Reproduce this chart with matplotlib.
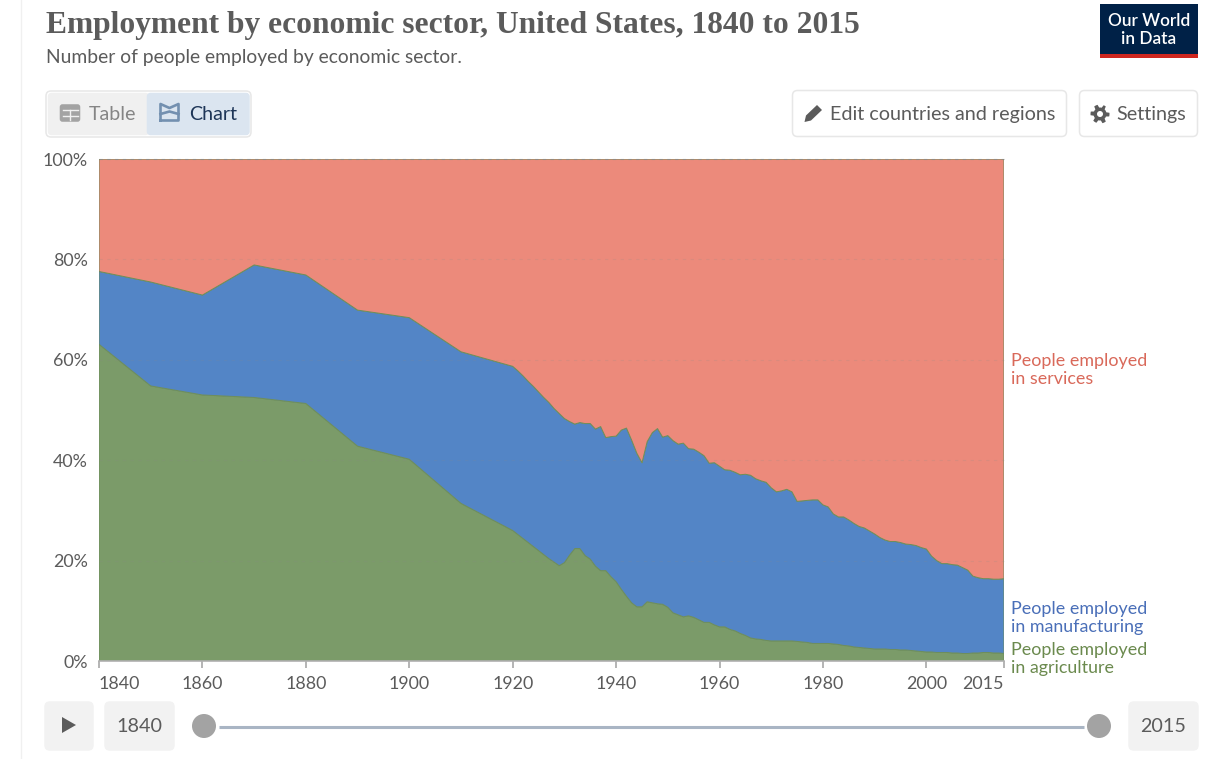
import matplotlib
matplotlib.use("Agg")
import matplotlib.pyplot as plt
import numpy as np
from matplotlib.patches import Circle, FancyBboxPatch, Polygon, Rectangle

plt.rcParams["font.family"] = ["Lato", "DejaVu Sans"]

# Data (shares of employment, in %)
years = [1840, 1850, 1860, 1870, 1880, 1890, 1900, 1910] + list(range(1920, 2016))

agriculture = [
    63.1, 54.8, 53.0, 52.5, 51.3, 42.8, 40.2, 31.4,
    # 1920s
    26.0, 25.2, 24.4, 23.6, 22.8, 22.0, 21.2, 20.4, 19.7, 19.0,
    # 1930s
    19.6, 21.1, 22.4, 22.4, 21.0, 20.3, 18.9, 18.0, 18.0, 16.8,
    # 1940s
    15.8, 14.3, 12.9, 11.6, 10.8, 10.8, 11.8, 11.6, 11.4, 11.3,
    # 1950s
    10.7, 9.6, 9.2, 8.8, 9.0, 8.7, 8.2, 7.7, 7.7, 7.2,
    # 1960s
    6.8, 6.8, 6.3, 6.0, 5.5, 5.1, 4.6, 4.4, 4.3, 4.1,
    # 1970s
    4.0, 4.0, 4.0, 4.0, 4.0, 3.9, 3.8, 3.7, 3.5, 3.5,
    # 1980s
    3.5, 3.5, 3.4, 3.3, 3.1, 3.0, 2.8, 2.7, 2.6, 2.5,
    # 1990s
    2.4, 2.4, 2.4, 2.3, 2.3, 2.2, 2.2, 2.1, 2.0, 1.9,
    # 2000s
    1.8, 1.8, 1.7, 1.7, 1.7, 1.6, 1.6, 1.5, 1.5, 1.6,
    # 2010s
    1.6, 1.7, 1.7, 1.6, 1.6, 1.5,
]

agri_plus_manufacturing = [
    77.6, 75.5, 72.9, 78.9, 76.9, 69.9, 68.4, 61.6,
    # 1920s
    58.7, 57.8, 56.8, 55.7, 54.7, 53.6, 52.5, 51.5, 50.3, 49.3,
    # 1930s
    48.3, 47.7, 47.2, 47.5, 47.3, 47.3, 46.2, 46.7, 44.5, 44.7,
    # 1940s
    44.8, 46.0, 46.4, 44.0, 41.4, 39.5, 43.7, 45.5, 46.3, 44.6,
    # 1950s
    44.9, 43.9, 43.2, 43.4, 42.3, 42.2, 41.6, 40.9, 39.4, 39.5,
    # 1960s
    38.8, 38.1, 38.0, 37.6, 37.1, 37.2, 37.0, 36.3, 35.9, 35.6,
    # 1970s
    34.5, 33.7, 33.9, 34.2, 33.7, 31.8, 31.9, 32.0, 32.1, 32.1,
    # 1980s
    31.1, 30.7, 29.3, 28.7, 28.7, 28.1, 27.4, 26.8, 26.5, 25.9,
    # 1990s
    25.3, 24.6, 24.1, 23.8, 23.8, 23.6, 23.3, 23.2, 23.0, 22.6,
    # 2000s
    22.3, 20.9, 20.0, 19.4, 19.4, 19.2, 19.1, 18.6, 18.1, 16.9,
    # 2010s
    16.6, 16.4, 16.4, 16.3, 16.3, 16.4,
]

x_ticks = [1840, 1860, 1880, 1900, 1920, 1940, 1960, 1980, 2000, 2015]
y_ticks = [0, 20, 40, 60, 80, 100]

AGRI_COLOR = "#7b9b69"
MANU_COLOR = "#5385c6"
SERV_COLOR = "#ec8a7b"
TEXT_GREY = "#5b5b5b"
W, H = 1207, 759

agriculture = np.array(agriculture)
manufacturing = np.array(agri_plus_manufacturing) - agriculture
services = 100 - np.array(agri_plus_manufacturing)

fig = plt.figure(figsize=(W / 100, H / 100), dpi=100, facecolor="white")

# page furniture is placed in pixel coordinates on a full-figure axes
ui = fig.add_axes([0, 0, 1, 1], zorder=0)
ui.set_xlim(0, W)
ui.set_ylim(H, 0)
ui.axis("off")


def button(x, y, w, h, face="white", edge="#e7e7e7", r=5):
    ui.add_patch(FancyBboxPatch((x + r, y + r), w - 2 * r, h - 2 * r,
                                boxstyle=f"round,pad={r},rounding_size={r}",
                                fc=face, ec=edge, lw=1.1))


ui.plot([20.5, 20.5], [0, H], color="#f0f0f0", lw=1)

ui.text(46, 25, "Employment by economic sector, United States, 1840 to 2015",
        family=["Liberation Serif", "DejaVu Serif"], fontsize=22.7, fontweight="bold",
        color=TEXT_GREY, va="center", ha="left")
ui.text(46, 57.5, "Number of people employed by economic sector.",
        fontsize=13.9, color=TEXT_GREY, va="center", ha="left")

# logo
ui.add_patch(Rectangle((1100, 4), 97.5, 50, fc="#002147", ec="none"))
ui.add_patch(Rectangle((1100, 54), 97.5, 4, fc="#ce261e", ec="none"))
ui.text(1149, 21, "Our World", color="white", fontsize=12.4, fontweight="semibold", ha="center", va="center")
ui.text(1149, 39, "in Data", color="white", fontsize=12.4, fontweight="semibold", ha="center", va="center")

# Table / Chart toggle
button(46, 91, 205, 46, edge="#e7e7e7")
button(48.5, 93.5, 100, 41, face="#f0f0f0", edge="#f0f0f0", r=3)
button(147.5, 93.5, 101.5, 41, face="#dbe5f0", edge="#dbe5f0", r=3)
button(60.5, 105, 19, 16, face="#a3a3a3", edge="#a3a3a3", r=2)
ui.plot([62.5, 77.5], [110, 110], color="#f0f0f0", lw=1)
ui.plot([62.5, 77.5], [115.5, 115.5], color="#f0f0f0", lw=1)
ui.plot([70, 70], [110, 120], color="#f0f0f0", lw=1)
ui.plot([160.5, 160.5, 169.5, 178.5, 178.5, 160.5, 160.5], [120.5, 104, 108, 104, 120.5, 120.5, 120.5],
        color="#7390b0", lw=1.9)
ui.plot([160.5, 169.5, 178.5], [114, 111.5, 114], color="#7390b0", lw=1.9)
ui.text(88.5, 114.5, "Table", fontsize=14.1, color="#858585", va="center", ha="left")
ui.text(189, 114.5, "Chart", fontsize=14.1, color="#1d3557", va="center", ha="left")

# Edit / Settings buttons
button(792.5, 90.5, 274, 46)
button(1079.5, 90.5, 118, 46)
ui.add_patch(Polygon([(804.5, 122), (806, 115.5), (817, 105), (822, 110), (811, 120.5)], closed=True,
                     fc=TEXT_GREY, ec="none"))
ui.text(829.5, 114.5, "Edit countries and regions", fontsize=14.25, color=TEXT_GREY, va="center", ha="left")
theta = np.linspace(0, 2 * np.pi, 49)
gear_r = 8 + 1.5 * np.sign(np.cos(6 * theta))
ui.add_patch(Polygon(np.c_[1100 + gear_r * np.cos(theta), 114 + gear_r * np.sin(theta)], closed=True,
                     fc=TEXT_GREY, ec="none"))
ui.add_patch(Circle((1100, 114), 3, fc="white", ec="none"))
ui.text(1116, 114.5, "Settings", fontsize=14.25, color=TEXT_GREY, va="center", ha="left")

# timeline
button(45, 702, 48, 48, face="#f2f2f2", edge="#f2f2f2")
ui.add_patch(Polygon([(62, 717), (62, 733), (76, 725)], closed=True, fc=TEXT_GREY, ec="none"))
button(105, 702, 69, 48, face="#f2f2f2", edge="#f2f2f2")
ui.text(139.5, 726.5, "1840", fontsize=14.25, color=TEXT_GREY, va="center", ha="center")
ui.plot([219, 1084], [726.5, 726.5], color="#a9b5c4", lw=2.2, solid_capstyle="butt")
ui.add_patch(Circle((204, 726), 12, fc="#a3a3a3", ec="none"))
ui.add_patch(Circle((1099, 726), 12, fc="#a3a3a3", ec="none"))
button(1129, 702, 69, 48, face="#f2f2f2", edge="#f2f2f2")
ui.text(1163.5, 726.5, "2015", fontsize=14.25, color=TEXT_GREY, va="center", ha="center")

# the chart itself
left, right, top, bottom = 99, 1004, 159, 661
ax = fig.add_axes([left / W, 1 - bottom / H, (right - left) / W, (bottom - top) / H], zorder=1)
ax.patch.set_alpha(0)
ax.stackplot(years, agriculture, manufacturing, services,
             colors=[AGRI_COLOR, MANU_COLOR, SERV_COLOR],
             edgecolor=["#6e8e5c", "#4a7bbb", "none"], linewidth=0.7)
ax.set_xlim(1840, 2015)
ax.set_ylim(0, 100)

for v in y_ticks[1:]:
    ax.axhline(v, color="#8a8a8a", lw=0.8, ls=(0, (3, 4)), alpha=0.18 if v < 100 else 0.7, clip_on=False)

for side in ["top", "right", "left"]:
    ax.spines[side].set_visible(False)
ax.spines["bottom"].set_color("#b0b0b0")
ax.spines["bottom"].set_linewidth(1.2)

ax.set_yticks(y_ticks, [f"{v}%" for v in y_ticks])
ax.set_xticks(x_ticks, [str(v) for v in x_ticks])
ax.tick_params(axis="y", length=0, pad=8, labelsize=12.85, labelcolor=TEXT_GREY)
ax.tick_params(axis="x", length=5, width=1.2, color="#a8a8a8", pad=5.5, labelsize=12.85, labelcolor=TEXT_GREY)
labels = ax.get_xticklabels()
labels[0].set_ha("left")
labels[-1].set_ha("right")

# series labels right of the area
ui.set_zorder(2)
ui.patch.set_alpha(0)
label_specs = [
    (361, "People employed", "#d9695a"), (379, "in services", "#d9695a"),
    (609, "People employed", "#4a6fb8"), (627, "in manufacturing", "#4a6fb8"),
    (650, "People employed", "#6b8a4e"), (668, "in agriculture", "#6b8a4e"),
]
for y, txt, col in label_specs:
    ui.text(1011, y, txt, fontsize=12.85, color=col, va="center", ha="left")

fig.savefig("out.png", dpi=100)
